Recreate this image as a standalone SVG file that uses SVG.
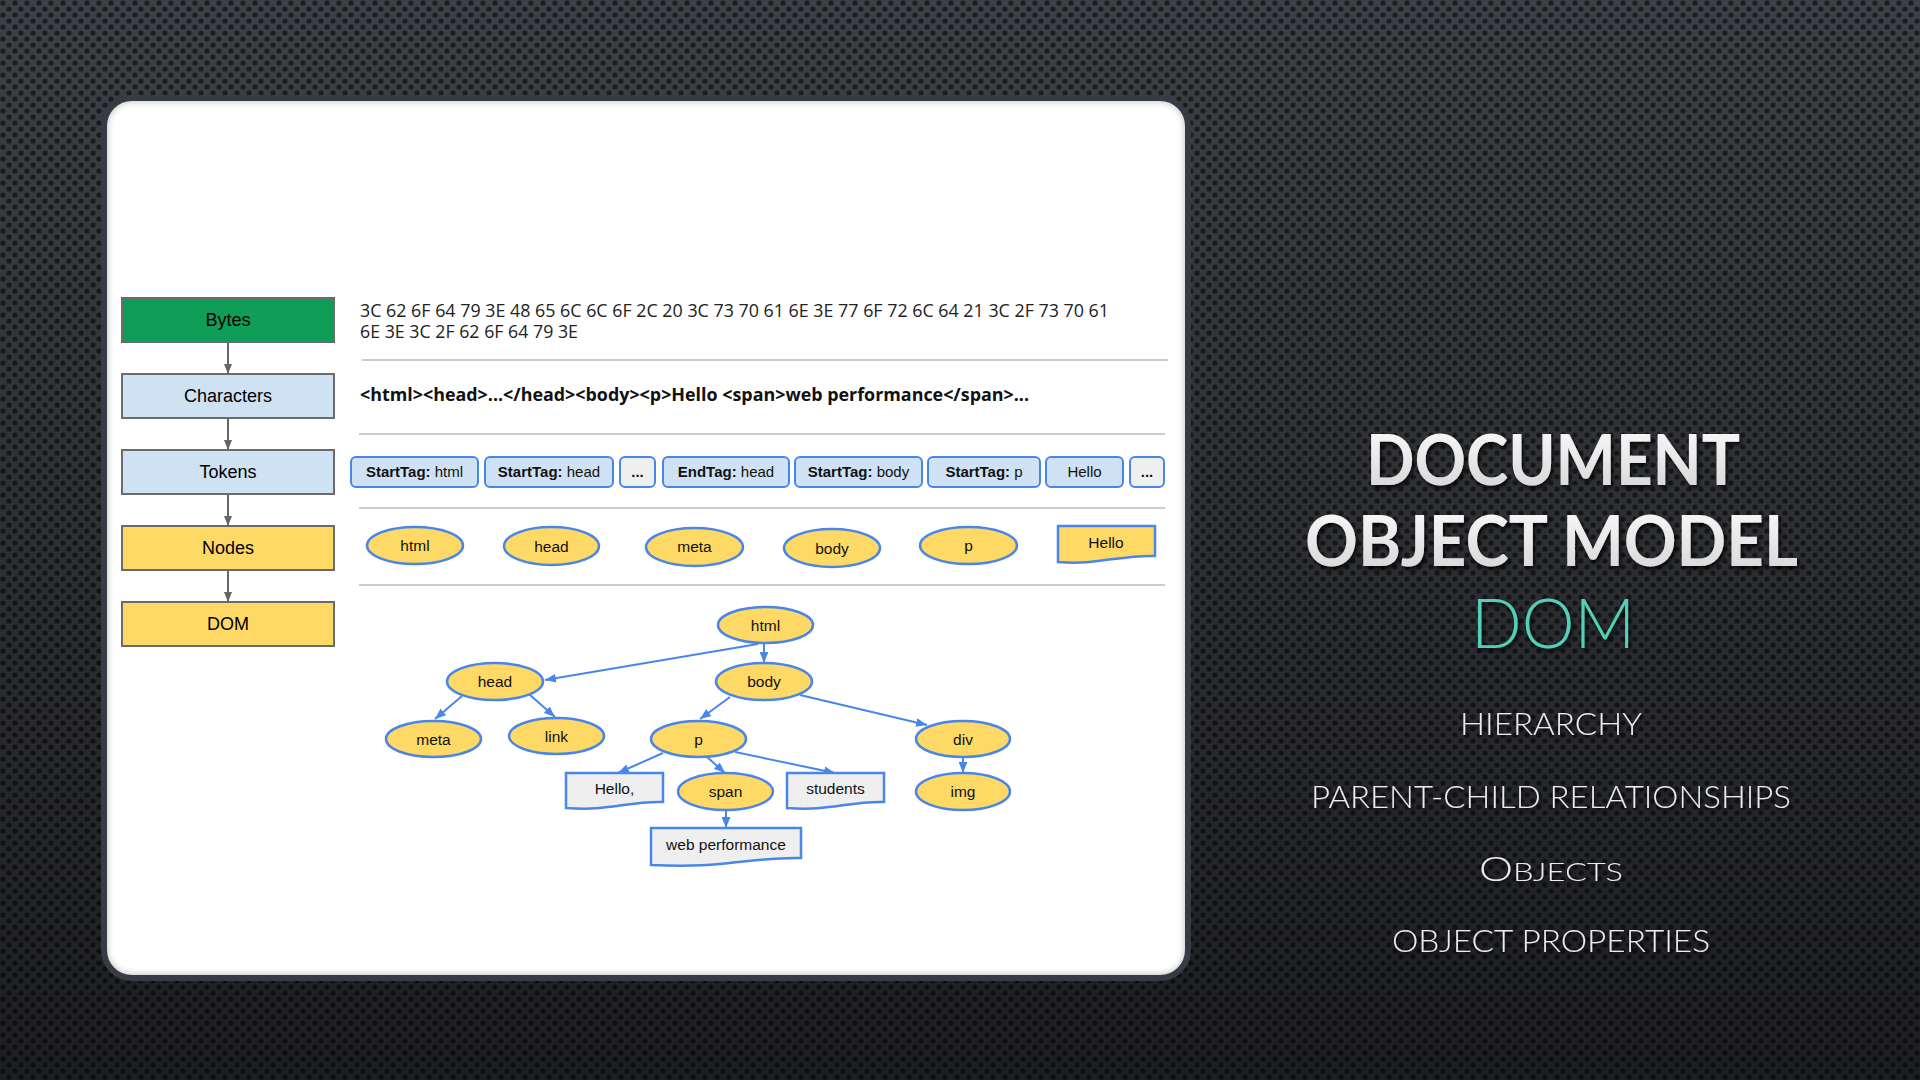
<svg xmlns="http://www.w3.org/2000/svg" width="1920" height="1080" viewBox="0 0 1920 1080">
  <defs>
    <linearGradient id="bgGrad" x1="0" y1="0" x2="0" y2="1">
      <stop offset="0" stop-color="#3d4045"/>
      <stop offset="0.5" stop-color="#2d2f33"/>
      <stop offset="1" stop-color="#1d1e21"/>
    </linearGradient>
    <pattern id="perf" width="12" height="12" patternUnits="userSpaceOnUse">
      <circle cx="3" cy="3" r="2.6" fill="#000" fill-opacity="0.55"/>
      <circle cx="9" cy="9" r="2.6" fill="#000" fill-opacity="0.55"/>
    </pattern>
    <linearGradient id="titleGrad" x1="0" y1="0" x2="0" y2="1">
      <stop offset="0" stop-color="#ffffff"/>
      <stop offset="1" stop-color="#d2d2d2"/>
    </linearGradient>
    <filter id="shadow" x="-10%" y="-20%" width="120%" height="150%">
      <feDropShadow dx="2" dy="3" stdDeviation="2" flood-color="#000" flood-opacity="0.8"/>
    </filter>
    <filter id="soft" x="-5%" y="-5%" width="110%" height="110%">
      <feGaussianBlur stdDeviation="3"/>
    </filter>
    <clipPath id="cardClip">
      <rect x="104" y="98" width="1084" height="880" rx="28"/>
    </clipPath>
    <marker id="blueHead" viewBox="0 0 10 8" refX="10" refY="4" markerWidth="11" markerHeight="9" markerUnits="userSpaceOnUse" orient="auto">
      <path d="M0,0 L10,4 L0,8 Z" fill="#4a86e8"/>
    </marker>
    <marker id="grayHead" viewBox="0 0 10 8" refX="10" refY="4" markerWidth="10" markerHeight="9" markerUnits="userSpaceOnUse" orient="auto">
      <path d="M0,0 L10,4 L0,8 Z" fill="#666666"/>
    </marker>
    <style>
      .stage { stroke: #6b6b6b; stroke-width: 2; }
      .stageLbl { font-family: "Liberation Sans", Arial, sans-serif; font-size: 18px; fill: #000; text-anchor: middle; }
      .rule { stroke: #cccccc; stroke-width: 2; }
      .tok { fill: #cfe2f3; stroke: #4a86e8; stroke-width: 2; }
      .tokGray { fill: #efefef; stroke: #4a86e8; stroke-width: 2; }
      .tokLbl { font-family: "Liberation Sans", Arial, sans-serif; font-size: 15px; fill: #111; text-anchor: middle; }
      .b { font-weight: bold; }
      .el { fill: #ffd966; stroke: #4a86e8; stroke-width: 2.5; }
      .doc { fill: #efefef; stroke: #4a86e8; stroke-width: 2.5; }
      .docY { fill: #ffd966; stroke: #4a86e8; stroke-width: 2.5; }
      .lbl { font-family: "Liberation Sans", Arial, sans-serif; font-size: 15.5px; fill: #111; text-anchor: middle; }
      .edge { fill: none; stroke: #4a86e8; stroke-width: 2; marker-end: url(#blueHead); }
      .flow { fill: none; stroke: #666666; stroke-width: 2; marker-end: url(#grayHead); }
      .hex { font-family: "Open Sans", "Liberation Sans", sans-serif; font-size: 17.5px; fill: #222; }
      .chars { font-family: "Open Sans", "Liberation Sans", sans-serif; font-size: 17px; font-weight: bold; fill: #111; }
      .title { font-family: Lato, "Open Sans", sans-serif; font-weight: 700; font-size: 70px; fill: url(#titleGrad); filter: url(#shadow); }
      .accent { font-family: Lato, "Open Sans", sans-serif; font-weight: 300; font-size: 68px; fill: #52d1b8; filter: url(#shadow); }
      .point { font-family: Lato, "Open Sans", sans-serif; font-weight: 300; font-size: 32px; fill: #ececec; filter: url(#shadow); }
    </style>
  </defs>

  <!-- perforated metal backdrop -->
  <rect x="0" y="0" width="1920" height="1080" fill="url(#bgGrad)"/>
  <rect x="0" y="0" width="1920" height="1080" fill="url(#perf)"/>

  <!-- white card -->
  <rect x="104" y="98" width="1084" height="880" rx="28" fill="#ffffff"/>
  <g clip-path="url(#cardClip)">
    <rect x="104" y="98" width="1084" height="880" rx="28" fill="none" stroke="#000" stroke-opacity="0.22" stroke-width="8" filter="url(#soft)"/>
  </g>
  <rect x="104" y="98" width="1084" height="880" rx="28" fill="none" stroke="#363b44" stroke-width="6"/>

  <!-- pipeline stages -->
  <g id="stage-bytes">
    <rect class="stage" x="122" y="298" width="212" height="44" fill="#0f9d58"/>
    <text class="stageLbl" x="228" y="326">Bytes</text>
  </g>
  <g id="stage-characters">
    <rect class="stage" x="122" y="374" width="212" height="44" fill="#cfe2f3"/>
    <text class="stageLbl" x="228" y="402">Characters</text>
  </g>
  <g id="stage-tokens">
    <rect class="stage" x="122" y="450" width="212" height="44" fill="#cfe2f3"/>
    <text class="stageLbl" x="228" y="478">Tokens</text>
  </g>
  <g id="stage-nodes">
    <rect class="stage" x="122" y="526" width="212" height="44" fill="#ffd966"/>
    <text class="stageLbl" x="228" y="554">Nodes</text>
  </g>
  <g id="stage-dom">
    <rect class="stage" x="122" y="602" width="212" height="44" fill="#ffd966"/>
    <text class="stageLbl" x="228" y="630">DOM</text>
  </g>

  <!-- row separators -->
  <g id="rules">
    <line class="rule" x1="362" y1="360" x2="1168" y2="360"/>
    <line class="rule" x1="359" y1="434" x2="1165" y2="434"/>
    <line class="rule" x1="359" y1="508" x2="1165" y2="508"/>
    <line class="rule" x1="359" y1="585" x2="1165" y2="585"/>
  </g>

  <!-- bytes row -->
  <g id="bytes-row">
    <text class="hex" x="360" y="317" textLength="749" lengthAdjust="spacingAndGlyphs">3C 62 6F 64 79 3E 48 65 6C 6C 6F 2C 20 3C 73 70 61 6E 3E 77 6F 72 6C 64 21 3C 2F 73 70 61</text>
    <text class="hex" x="360" y="338" textLength="218" lengthAdjust="spacingAndGlyphs">6E 3E 3C 2F 62 6F 64 79 3E</text>
  </g>

  <!-- characters row -->
  <g id="characters-row">
    <text class="chars" x="360" y="401" textLength="669" lengthAdjust="spacingAndGlyphs">&lt;html&gt;&lt;head&gt;...&lt;/head&gt;&lt;body&gt;&lt;p&gt;Hello &lt;span&gt;web performance&lt;/span&gt;...</text>
  </g>

  <!-- tokens row -->
  <g id="token-starttag-html">
    <rect class="tok" x="351" y="457" width="127" height="30" rx="5"/>
    <text class="tokLbl" x="414.5" y="477"><tspan class="b">StartTag:</tspan> html</text>
  </g>
  <g id="token-starttag-head">
    <rect class="tok" x="485" y="457" width="128" height="30" rx="5"/>
    <text class="tokLbl" x="549" y="477"><tspan class="b">StartTag:</tspan> head</text>
  </g>
  <g id="token-ellipsis-1">
    <rect class="tokGray" x="620" y="457" width="35" height="30" rx="5"/>
    <text class="tokLbl b" x="637.5" y="477">...</text>
  </g>
  <g id="token-endtag-head">
    <rect class="tok" x="663" y="457" width="126" height="30" rx="5"/>
    <text class="tokLbl" x="726" y="477"><tspan class="b">EndTag:</tspan> head</text>
  </g>
  <g id="token-starttag-body">
    <rect class="tok" x="795" y="457" width="127" height="30" rx="5"/>
    <text class="tokLbl" x="858.5" y="477"><tspan class="b">StartTag:</tspan> body</text>
  </g>
  <g id="token-starttag-p">
    <rect class="tok" x="928" y="457" width="112" height="30" rx="5"/>
    <text class="tokLbl" x="984" y="477"><tspan class="b">StartTag:</tspan> p</text>
  </g>
  <g id="token-hello">
    <rect class="tok" x="1046" y="457" width="77" height="30" rx="5"/>
    <text class="tokLbl" x="1084.5" y="477">Hello</text>
  </g>
  <g id="token-ellipsis-2">
    <rect class="tokGray" x="1130" y="457" width="34" height="30" rx="5"/>
    <text class="tokLbl b" x="1147" y="477">...</text>
  </g>

  <!-- nodes row -->
  <g id="node-row-html">
    <ellipse class="el" cx="415" cy="545.5" rx="48" ry="18.5"/>
    <text class="lbl" x="415" y="551">html</text>
  </g>
  <g id="node-row-head">
    <ellipse class="el" cx="551.5" cy="546" rx="47.5" ry="19"/>
    <text class="lbl" x="551.5" y="552">head</text>
  </g>
  <g id="node-row-meta">
    <ellipse class="el" cx="694.5" cy="547" rx="48.5" ry="19"/>
    <text class="lbl" x="694.5" y="552">meta</text>
  </g>
  <g id="node-row-body">
    <ellipse class="el" cx="832" cy="548" rx="48" ry="19"/>
    <text class="lbl" x="832" y="554">body</text>
  </g>
  <g id="node-row-p">
    <ellipse class="el" cx="968.5" cy="545.5" rx="48.5" ry="18.5"/>
    <text class="lbl" x="968.5" y="551">p</text>
  </g>
  <g id="node-row-hello">
    <path class="docY" d="M1058,526 H1155 V556 C1135,555 1110,560 1098,561 C1085,563 1070,563 1058,562 Z"/>
    <text class="lbl" x="1106" y="548">Hello</text>
  </g>

  <!-- DOM tree connectors -->
  <g id="tree-edges">
    <path class="edge" d="M758,644 L545,680"/>
    <path class="edge" d="M764,643 L764,663"/>
    <path class="edge" d="M462,696 L435,719"/>
    <path class="edge" d="M530,695 L555,717"/>
    <path class="edge" d="M730,697 L700,719"/>
    <path class="edge" d="M800,695 L927,725"/>
    <path class="edge" d="M663,753 L618,773"/>
    <path class="edge" d="M707,757 L725,773"/>
    <path class="edge" d="M735,752 L835,773"/>
    <path class="edge" d="M726,810 L726,828"/>
    <path class="edge" d="M963,757 L963,773"/>
  </g>

  <!-- stage flow arrows -->
  <g id="stage-edges">
    <path class="flow" d="M228,342 L228,374"/>
    <path class="flow" d="M228,418 L228,450"/>
    <path class="flow" d="M228,494 L228,526"/>
    <path class="flow" d="M228,570 L228,602"/>
  </g>

  <!-- DOM tree nodes -->
  <g id="dom-html">
    <ellipse class="el" cx="765.5" cy="625" rx="47.5" ry="18"/>
    <text class="lbl" x="765.5" y="630.5">html</text>
  </g>
  <g id="dom-head">
    <ellipse class="el" cx="495" cy="681.5" rx="48" ry="18.5"/>
    <text class="lbl" x="495" y="687">head</text>
  </g>
  <g id="dom-body">
    <ellipse class="el" cx="764" cy="681.5" rx="48" ry="18.5"/>
    <text class="lbl" x="764" y="687">body</text>
  </g>
  <g id="dom-meta">
    <ellipse class="el" cx="433.5" cy="739" rx="47.5" ry="18"/>
    <text class="lbl" x="433.5" y="744.5">meta</text>
  </g>
  <g id="dom-link">
    <ellipse class="el" cx="556.5" cy="736" rx="47.5" ry="18"/>
    <text class="lbl" x="556.5" y="741.5">link</text>
  </g>
  <g id="dom-p">
    <ellipse class="el" cx="698.5" cy="739" rx="47.5" ry="18"/>
    <text class="lbl" x="698.5" y="744.5">p</text>
  </g>
  <g id="dom-div">
    <ellipse class="el" cx="963" cy="739" rx="47" ry="18"/>
    <text class="lbl" x="963" y="744.5">div</text>
  </g>
  <g id="dom-hello-text">
    <path class="doc" d="M566,773 H663 V802 C643,801 620,806 608,807 C595,809 580,809 566,808 Z"/>
    <text class="lbl" x="614.5" y="794">Hello,</text>
  </g>
  <g id="dom-span">
    <ellipse class="el" cx="725.5" cy="791.5" rx="47.5" ry="18.5"/>
    <text class="lbl" x="725.5" y="797">span</text>
  </g>
  <g id="dom-students-text">
    <path class="doc" d="M787,773 H884 V802 C864,801 841,806 829,807 C816,809 801,809 787,808 Z"/>
    <text class="lbl" x="835.5" y="794">students</text>
  </g>
  <g id="dom-img">
    <ellipse class="el" cx="963" cy="791.5" rx="47" ry="18.5"/>
    <text class="lbl" x="963" y="797">img</text>
  </g>
  <g id="dom-web-performance-text">
    <path class="doc" d="M651,828 H801 V858 C771,857 737,863 719,864 C700,866 675,866 651,865 Z"/>
    <text class="lbl" x="726" y="850">web performance</text>
  </g>

  <!-- slide title and talking points -->
  <g id="title">
    <text class="title" x="1366" y="485" textLength="374" lengthAdjust="spacingAndGlyphs">DOCUMENT</text>
    <text class="title" x="1305" y="566" textLength="493" lengthAdjust="spacingAndGlyphs">OBJECT MODEL</text>
    <text class="accent" x="1471" y="648" textLength="164" lengthAdjust="spacingAndGlyphs">DOM</text>
  </g>
  <g id="points">
    <text class="point" x="1460" y="735" textLength="182" lengthAdjust="spacingAndGlyphs">HIERARCHY</text>
    <text class="point" x="1311" y="808" textLength="480" lengthAdjust="spacingAndGlyphs">PARENT-CHILD RELATIONSHIPS</text>
    <text class="point" x="1479" y="881" textLength="144" lengthAdjust="spacingAndGlyphs"><tspan font-size="33">O</tspan><tspan font-size="25">BJECTS</tspan></text>
    <text class="point" x="1392" y="952" textLength="318" lengthAdjust="spacingAndGlyphs">OBJECT PROPERTIES</text>
  </g>
</svg>
